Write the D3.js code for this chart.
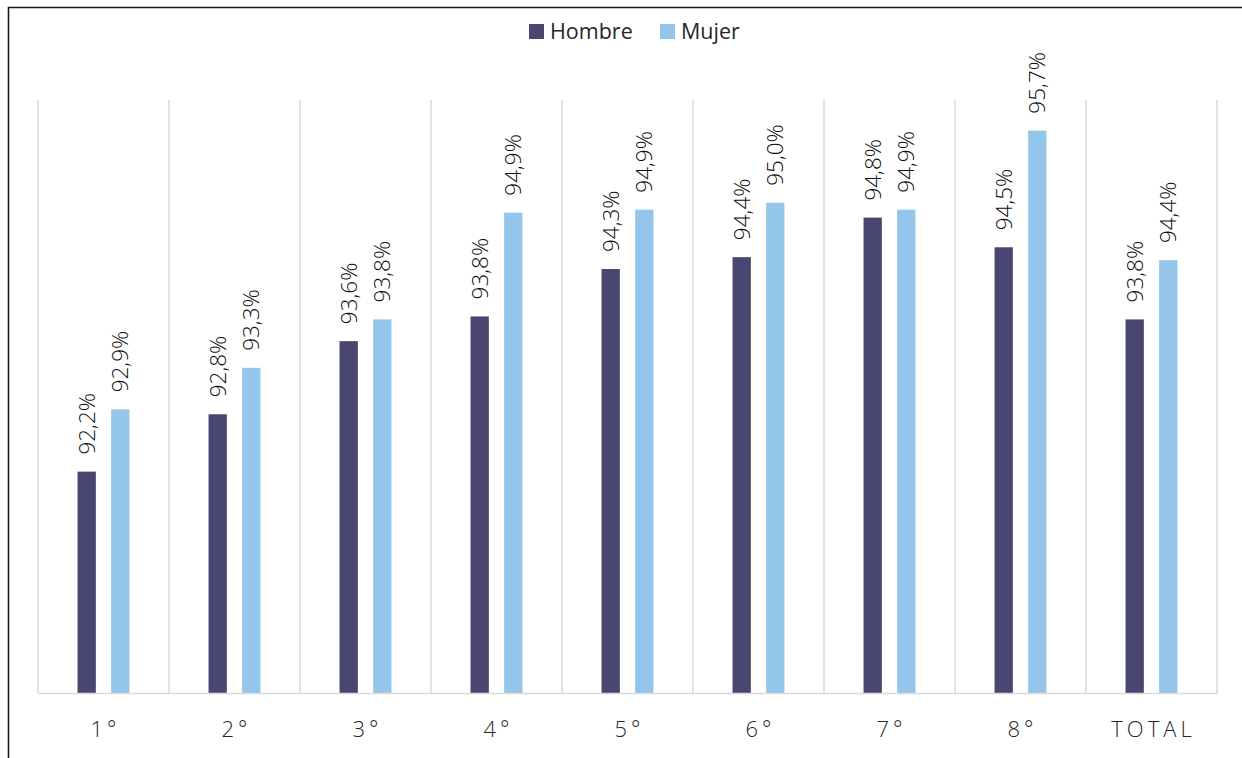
<!DOCTYPE html>
<meta charset="utf-8">
<style>
body { margin: 0; background: #fff; }
svg { display: block; font-family: "Open Sans", "Noto Sans", sans-serif; }
.grid line { stroke: #d9d9d9; stroke-width: 1.5; }
.lbl { font-size: 22.5px; fill: #0d0d0d; font-weight: 300; }
.xlab { font-size: 22px; fill: #262626; letter-spacing: 4px; font-weight: 300; font-family: "Open Sans", "Noto Sans", sans-serif; }
.legend text { font-size: 21.5px; fill: #262626; }
</style>
<body>
<script src="https://cdn.jsdelivr.net/npm/d3@7"></script>
<script>
// data
var categories = ["1°", "2°", "3°", "4°", "5°", "6°", "7°", "8°", "TOTAL"];
var series = ["Hombre", "Mujer"];
var hombre = [92.24, 92.82, 93.56, 93.81, 94.29, 94.41, 94.81, 94.51, 93.78];
var mujer  = [92.87, 93.29, 93.78, 94.86, 94.89, 94.96, 94.89, 95.69, 94.38];
var colors = ["#494771", "#93c6ea"];

var W = 1242, H = 758;
var plot = {left: 38, right: 1217, top: 100, bottom: 693};

var svg = d3.select("body").append("svg")
    .attr("width", W)
    .attr("height", H);

// set the ranges
var x0 = d3.scaleBand()
    .domain(categories)
    .range([plot.left, plot.right])
    .padding(0);
var x1 = d3.scaleBand()
    .domain(series)
    .range([0, x0.bandwidth()])
    .paddingInner(0.455)
    .paddingOuter(1.177);
var y = d3.scaleLinear()
    .domain([90, 96])
    .range([plot.bottom, plot.top]);

// vertical gridlines between categories
var bounds = categories.map(function(c) { return x0(c); }).concat([plot.right]);
svg.append("g").attr("class", "grid")
  .selectAll("line")
    .data(bounds)
  .enter().append("line")
    .attr("x1", function(d) { return d; })
    .attr("x2", function(d) { return d; })
    .attr("y1", plot.top)
    .attr("y2", plot.bottom);

// bars
var rows = categories.map(function(c, i) {
  return {cat: c, vals: [{s: "Hombre", v: hombre[i]}, {s: "Mujer", v: mujer[i]}]};
});

var groups = svg.selectAll(".cat")
    .data(rows)
  .enter().append("g")
    .attr("class", "cat")
    .attr("transform", function(d) { return "translate(" + x0(d.cat) + ",0)"; });

groups.selectAll("rect")
    .data(function(d) { return d.vals; })
  .enter().append("rect")
    .attr("x", function(d) { return x1(d.s); })
    .attr("width", x1.bandwidth())
    .attr("y", function(d) { return y(d.v); })
    .attr("height", function(d) { return plot.bottom - y(d.v); })
    .attr("fill", function(d, i) { return colors[i]; });

// value labels, rotated
groups.selectAll("text")
    .data(function(d) { return d.vals; })
  .enter().append("text")
    .attr("class", "lbl")
    .attr("transform", function(d) {
      return "translate(" + (x1(d.s) + x1.bandwidth() / 2) + "," + (y(d.v) - 17) + ") rotate(-90)";
    })
    .attr("dy", "0.36em")
    .text(function(d) { return d.v.toFixed(1).replace(".", ",") + "%"; });

// x axis
var xAxis = svg.append("g")
    .attr("transform", "translate(0," + plot.bottom + ")")
    .call(d3.axisBottom(x0).tickSize(0).tickPadding(0))
    .attr("font-family", null)
    .attr("font-size", null);
xAxis.select(".domain").attr("stroke", "#d9d9d9").attr("stroke-width", 1.5);
xAxis.selectAll("text")
    .attr("class", "xlab")
    .attr("y", 44)
    .attr("dy", 0)
    .attr("dx", 2)
    .attr("fill", null);

// legend
var legend = svg.append("g").attr("class", "legend");
var legX = [529, 660];
series.forEach(function(s, i) {
  legend.append("rect")
      .attr("x", legX[i]).attr("y", 24)
      .attr("width", 15).attr("height", 15)
      .attr("fill", colors[i]);
  legend.append("text")
      .attr("x", legX[i] + 21).attr("y", 39)
      .text(s);
});

// frame (only top and left edges fall inside the picture)
svg.append("path")
    .attr("d", "M8.5," + H + "V7.5H" + W)
    .attr("fill", "none")
    .attr("stroke", "#1a1a1a")
    .attr("stroke-width", 1.6);
</script>
</body>
